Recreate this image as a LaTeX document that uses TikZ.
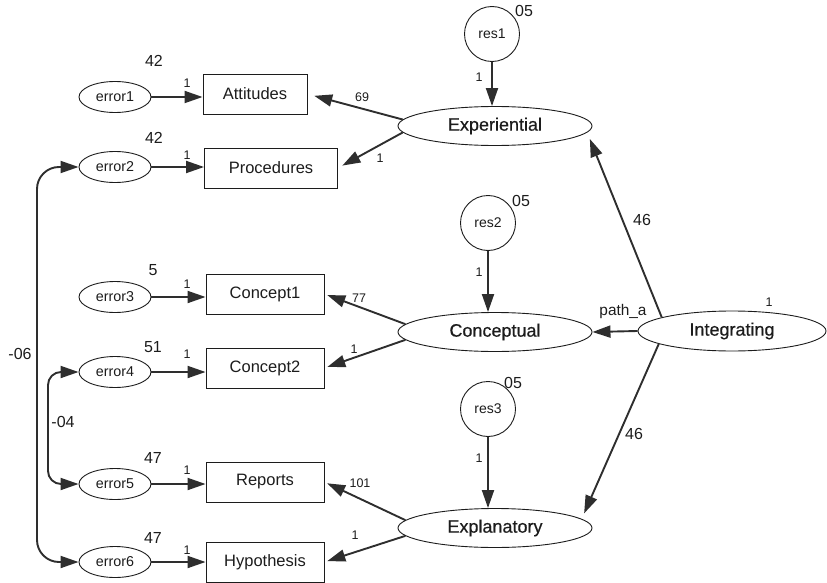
\documentclass[tikz,border=0pt]{standalone}
\usepackage{fontspec}
\setmainfont{Liberation Sans}
\newfontface\latfont{Liberation Sans}[FakeBold=0.5]
\usetikzlibrary{shapes.geometric,arrows.meta}
\definecolor{ink}{HTML}{2E2E2E}
\definecolor{txt}{HTML}{1C1C1C}

\begin{document}
\begin{tikzpicture}[x=1pt,y=-1pt,
  errnode/.style={ellipse,draw=txt,line width=0.9pt,minimum width=72pt,minimum height=31pt,
    inner sep=0pt,font=\fontsize{14.3}{16}\selectfont,text=txt},
  obsbox/.style={rectangle,draw=txt,line width=0.9pt,minimum height=40pt,inner sep=0pt,
    font=\fontsize{16.5}{18}\selectfont,text=txt},
  latent/.style={ellipse,draw=txt,line width=0.9pt,minimum width=194pt,minimum height=39pt,
    inner sep=0pt,font=\latfont\fontsize{18}{20}\selectfont,text=txt},
  resnode/.style={circle,draw=txt,line width=0.9pt,minimum size=55pt,inner sep=0pt,
    font=\fontsize{14}{16}\selectfont,text=txt},
  reg/.style={draw=ink,line width=1.9pt,-{Triangle[length=18pt,width=12pt]}},
  cov/.style={draw=ink,line width=1.9pt,
    {Triangle[length=18pt,width=12pt]}-{Triangle[length=18pt,width=12pt]},rounded corners=22pt},
  est/.style={font=\fontsize{16}{18}\selectfont,text=txt,inner sep=0pt},
  wt/.style={font=\fontsize{12.5}{14}\selectfont,text=txt,inner sep=0pt},
]
\useasboundingbox (0,0) rectangle (827,583);

% error terms
\node[errnode] (e1) at (115,97)  {error1};
\node[errnode] (e2) at (115,167) {error2};
\node[errnode] (e3) at (115,297) {error3};
\node[errnode] (e4) at (115,372) {error4};
\node[errnode] (e5) at (115,484) {error5};
\node[errnode] (e6) at (115,562) {error6};

% observed indicators
\node[obsbox,minimum width=104pt] (att)  at (255,94)  {Attitudes};
\node[obsbox,minimum width=133pt] (proc) at (271,168) {Procedures};
\node[obsbox,minimum width=118pt] (c1)   at (265,294) {Concept1};
\node[obsbox,minimum width=118pt] (c2)   at (265,368) {Concept2};
\node[obsbox,minimum width=118pt] (rep)  at (265,482) {Reports};
\node[obsbox,minimum width=118pt] (hyp)  at (265,562) {Hypothesis};

% latent factors
\node[latent] (exp)  at (495,126) {Experiential};
\node[latent] (con)  at (495,332) {Conceptual};
\node[latent] (expl) at (495,528) {Explanatory};
\node[latent,minimum width=188pt,minimum height=40pt] (int) at (732,331) {Integrating};

% residuals
\node[resnode] (r1) at (492,34)  {res1};
\node[resnode] (r2) at (488,223) {res2};
\node[resnode] (r3) at (488,409) {res3};

% error paths
\foreach \e/\o in {e1/att,e2/proc,e3/c1,e4/c2,e5/rep,e6/hyp}
  \draw[reg] (\e.east) -- (\e.east -| \o.west);

% residual paths
\draw[reg] (r1.south) -- (r1.south |- exp.north);
\draw[reg] (r2.south) -- (r2.south |- con.north);
\draw[reg] (r3.south) -- (r3.south |- expl.north);

% loadings
\draw[reg,shorten >=7pt] (exp.176)  -- (att.east);
\draw[reg,shorten >=5pt] (exp.184)  -- (proc.east);
\draw[reg,shorten >=3pt] (con.175)  -- (c1.east);
\draw[reg,shorten >=3pt] (con.185)  -- (c2.east);
\draw[reg,shorten >=3pt] (expl.175) -- (rep.east);
\draw[reg,shorten >=3pt] (expl.185) -- (hyp.east);

% structural paths
\draw[reg] (int.west) -- (con.east);
\draw[reg,shorten >=7pt] (int.169) -- (exp.-4.4);
\draw[reg,shorten >=6pt] (int.190) -- (expl.6.4);

% covariances
\coordinate (c06) at (37,0);
\coordinate (c04) at (48,0);
\draw[cov] (e2.west) -- (e2.west -| c06) -- (e6.west -| c06) -- (e6.west);
\draw[cov,rounded corners=13pt] (e4.west) -- (e4.west -| c04) -- (e5.west -| c04) -- (e5.west);

% variances
\node[est] at (154,61)  {42};
\node[est] at (154,138) {42};
\node[est] at (153,270) {5};
\node[est] at (153,347) {51};
\node[est] at (153,458) {47};
\node[est] at (153,538) {47};
\node[est] at (524,11)  {05};
\node[est] at (521,201) {05};
\node[est] at (513,383) {05};
\node[wt]  at (769,302) {1};

% fixed weights
\foreach \y in {83,155,284,354,470,550}
  \node[wt] at (187,\y) {1};
\node[wt] at (479,77)  {1};
\node[wt] at (479,272) {1};
\node[wt] at (479,458) {1};

% loading estimates
\node[wt] at (362,97)  {69};
\node[wt] at (380,158) {1};
\node[wt] at (359,298) {77};
\node[wt] at (354,349) {1};
\node[wt] at (360,483) {101};
\node[wt] at (355,535) {1};

% structural estimates
\node[est] at (642,220) {46};
\node[est] at (634,434) {46};
\node[font=\fontsize{15.4}{17}\selectfont,text=txt,inner sep=0pt] at (623,312) {path\_a};

% covariance estimates
\node[est] at (20,354) {-06};
\node[est] at (63,422) {-04};
\end{tikzpicture}
\end{document}
